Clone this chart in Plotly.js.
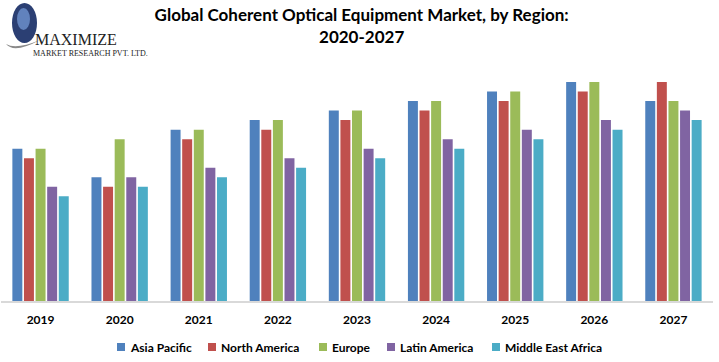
<!DOCTYPE html>
<html>
<head>
<meta charset="utf-8">
<script src="https://cdn.plot.ly/plotly-3.0.1.min.js"></script>
<style>html,body{margin:0;padding:0;background:#fff;}#chart{width:719px;height:362px;}</style>
</head>
<body>
<div id="chart"></div>
<script>
// ---- data ----
var years = ["2019", "2020", "2021", "2022", "2023", "2024", "2025", "2026", "2027"];
var regions = ["Asia Pacific", "North America", "Europe", "Latin America", "Middle East Africa"];
var asiaPacific      = [16, 13, 18, 19, 20, 21, 22, 23, 21];
var northAmerica     = [15, 12, 17, 18, 19, 20, 21, 22, 23];
var europe           = [16, 17, 18, 19, 20, 21, 22, 23, 21];
var latinAmerica     = [12, 13, 14, 15, 16, 17, 18, 19, 20];
var middleEastAfrica = [11, 12, 13, 14, 15, 16, 17, 18, 19];
var chartTitle = "Global Coherent Optical Equipment Market, by Region:<br>2020-2027";

// ---- style ----
var colors = ["#4F81BD", "#C0504D", "#9BBB59", "#8064A2", "#4BACC6"];
var series = [asiaPacific, northAmerica, europe, latinAmerica, middleEastAfrica];
var W = 719, H = 362;
var M = {l: 1, r: 6, t: 63, b: 61};
var PW = W - M.l - M.r, PH = H - M.t - M.b;
function px(x) { return (x - M.l) / PW; }
function py(y) { return (H - M.b - y) / PH; }

var traces = series.map(function (vals, i) {
  return {type: "bar", name: regions[i], x: years, y: vals,
          marker: {color: colors[i], line: {width: 0}}, hoverinfo: "x+y+name"};
});

var shapes = [];
var annotations = [];

// custom legend (layout positions)
var legendSquareX = [117, 208, 319, 387, 492];
var legendY = 347;
regions.forEach(function (name, i) {
  shapes.push({type: "rect", xref: "paper", yref: "paper",
    x0: px(legendSquareX[i]), x1: px(legendSquareX[i] + 8),
    y0: py(legendY + 4), y1: py(legendY - 4),
    fillcolor: colors[i], line: {width: 0}});
  annotations.push({xref: "paper", yref: "paper", x: px(legendSquareX[i] + 11), y: py(legendY),
    xanchor: "left", yanchor: "middle", showarrow: false, text: name,
    font: {family: "Lato, 'Open Sans', sans-serif", size: 12, color: "#000", weight: "bold"}});
});

// logo
shapes.push({type: "circle", xref: "paper", yref: "paper",
  x0: px(12), x1: px(37), y0: py(43), y1: py(3),
  fillcolor: "#2B3F73", line: {width: 0}});
shapes.push({type: "circle", xref: "paper", yref: "paper",
  x0: px(17), x1: px(30), y0: py(30), y1: py(8),
  fillcolor: "#6F93CF", line: {width: 0}, opacity: 0.8});
shapes.push({type: "path", xref: "paper", yref: "paper",
  path: "M " + px(6) + " " + py(44) + " Q " + px(14) + " " + py(54) + " " + px(40) + " " + py(40) +
        " Q " + px(16) + " " + py(50) + " " + px(6) + " " + py(44) + " Z",
  fillcolor: "#8A8A8A", line: {width: 0}});
annotations.push({xref: "paper", yref: "paper", x: px(34), y: py(40), xanchor: "left", yanchor: "middle",
  showarrow: false, text: "MAXIMIZE", borderpad: 0,
  font: {family: "'Liberation Serif', 'DejaVu Serif', serif", size: 16, color: "#222"}});
annotations.push({xref: "paper", yref: "paper", x: px(32), y: py(54), xanchor: "left", yanchor: "middle",
  showarrow: false, text: "MARKET RESEARCH PVT. LTD.", borderpad: 0,
  font: {family: "'Liberation Serif', 'DejaVu Serif', serif", size: 8, color: "#222"}});

var layout = {
  width: W, height: H,
  margin: M,
  paper_bgcolor: "#fff", plot_bgcolor: "#fff",
  title: {text: chartTitle, x: 0.503, xanchor: "center", yref: "container", y: 1 - 21 / H, yanchor: "middle",
          font: {family: "Lato, 'Open Sans', sans-serif", size: 17, color: "#000", weight: "bold"}},
  barmode: "group", bargap: 0.267, bargroupgap: 0.14,
  showlegend: false,
  xaxis: {type: "category", showline: true, linecolor: "#D9D9D9", linewidth: 2,
          ticks: "", showgrid: false, zeroline: false, ticklabelstandoff: 7,
          tickfont: {family: "Lato, 'Open Sans', sans-serif", size: 12, color: "#000", weight: "bold"}},
  yaxis: {range: [0, 25], visible: false, showgrid: false, zeroline: false},
  shapes: shapes,
  annotations: annotations
};

Plotly.newPlot("chart", traces, layout, {displayModeBar: false, staticPlot: true});
</script>
</body>
</html>
